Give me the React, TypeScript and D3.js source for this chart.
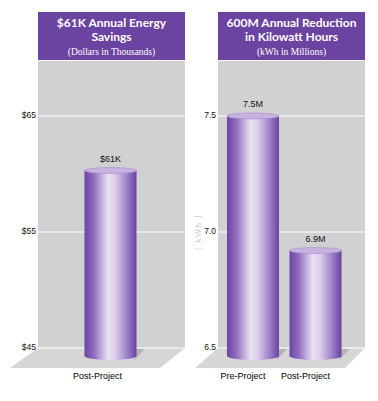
import React from "react";
import * as d3 from "d3";

const leftCategories = ["Post-Project"];
const leftValues = [60.3];
const leftLabels = ["$61K"];
const leftTicks = [45, 55, 65];
const leftTickLabels = ["$45", "$55", "$65"];

const rightCategories = ["Pre-Project", "Post-Project"];
const rightValues = [7.5, 6.92];
const rightLabels = ["7.5M", "6.9M"];
const rightTicks = [6.5, 7.0, 7.5];
const rightTickLabels = ["6.5", "7.0", "7.5"];

const W = 378;
const H = 401;
const PLOT_TOP = 61;
const PLOT_BOTTOM = 348;
const BASE = 356;
const BAR_W = 52;
const RX = BAR_W / 2;

type PanelProps = {
  x0: number;
  x1: number;
  titleLines: string[];
  subtitle: string;
  categories: string[];
  values: number[];
  labels: string[];
  ticks: number[];
  tickLabels: string[];
  domain: [number, number];
  centers: [number, number];
  floorShift: number;
  labelShift: number;
  unitLabel?: string;
  id: string;
};

function Panel(p: PanelProps) {
  const y = d3.scaleLinear().domain(p.domain).range([PLOT_BOTTOM, PLOT_TOP]);
  const x = d3.scalePoint<string>().domain(p.categories).range(p.centers).padding(0);
  const cx = (p.x0 + p.x1) / 2;
  const floor = [
    [p.x0, PLOT_BOTTOM],
    [p.x1, PLOT_BOTTOM],
    [p.x1 + p.floorShift, 368],
    [p.x0 + p.floorShift - 3, 368],
  ];
  return (
    <g>
      <rect x={p.x0} y={12} width={p.x1 - p.x0} height={48} fill="#6b43a0" />
      {p.titleLines.map((t, i) => (
        <text
          key={i}
          x={cx}
          y={24 + i * 14}
          textAnchor="middle"
          dominantBaseline="middle"
          fill="#fff"
          fontFamily="Lato, sans-serif"
          fontWeight={700}
          fontSize={12}
        >
          {t}
        </text>
      ))}
      <text
        x={cx}
        y={52.5}
        textAnchor="middle"
        dominantBaseline="middle"
        fill="#fff"
        fontFamily="'Liberation Serif', serif"
        fontSize={9.5}
      >
        {p.subtitle}
      </text>
      <rect x={p.x0} y={PLOT_TOP} width={p.x1 - p.x0} height={PLOT_BOTTOM - PLOT_TOP} fill="#d1d1d3" />
      <polygon points={floor.map((q) => q.join(",")).join(" ")} fill="#d6d6d6" />
      {p.ticks.map((t, i) => (
        <g key={i}>
          {i > 0 && (
            <line x1={p.x0} x2={p.x1} y1={y(t)} y2={y(t)} stroke="#fff" strokeWidth={1} />
          )}
          <text
            x={p.x0 - 2}
            y={y(t)}
            textAnchor="end"
            dominantBaseline="middle"
            fontFamily="'Liberation Sans Narrow', 'Liberation Sans', sans-serif"
            fontSize={8.5}
            fill="#111"
          >
            {p.tickLabels[i]}
          </text>
        </g>
      ))}
      <line x1={p.x0} x2={p.x1} y1={PLOT_BOTTOM} y2={PLOT_BOTTOM} stroke="#fff" strokeWidth={1} />
      {p.unitLabel && (
        <text
          transform={`translate(${p.x0 - 19},${y(7.0)}) rotate(-90)`}
          textAnchor="middle"
          dominantBaseline="middle"
          fontFamily="Lato, sans-serif"
          fontSize={8}
          letterSpacing={1.5}
          fill="#cfcfcf"
        >
          {p.unitLabel}
        </text>
      )}
      {p.categories.map((c, i) => {
        const bx = x(c) as number;
        const top = y(p.values[i]);
        return (
          <g key={c}>
            <polygon
              points={`${bx + RX - 2},${PLOT_BOTTOM + 1} ${bx + RX + 8},${PLOT_BOTTOM + 1} ${bx + RX - 2},${BASE + 4}`}
              fill="#b4b4b4"
            />
            <rect x={bx - RX} y={top} width={BAR_W} height={BASE - top} fill={`url(#${p.id}-body)`} />
            <ellipse cx={bx} cy={BASE} rx={RX} ry={4} fill={`url(#${p.id}-body)`} />
            <ellipse cx={bx} cy={top} rx={RX} ry={3} fill="#c7b3e0" stroke="#a78ccf" strokeWidth={0.6} />
            <text
              x={bx}
              y={top - 11}
              textAnchor="middle"
              dominantBaseline="middle"
              fontFamily="'Liberation Sans Narrow', 'Liberation Sans', sans-serif"
              fontSize={9}
              fill="#111"
            >
              {p.labels[i]}
            </text>
            <text
              x={bx + p.labelShift}
              y={377}
              textAnchor="middle"
              dominantBaseline="middle"
              fontFamily="'Liberation Sans Narrow', 'Liberation Sans', sans-serif"
              fontSize={9}
              fill="#000"
            >
              {c}
            </text>
          </g>
        );
      })}
    </g>
  );
}

function Grad({ id }: { id: string }) {
  return (
    <linearGradient id={`${id}-body`} x1="0" x2="1" y1="0" y2="0">
      <stop offset="0" stopColor="#6c44a2" />
      <stop offset="0.18" stopColor="#8f6dbf" />
      <stop offset="0.45" stopColor="#e9e1f2" />
      <stop offset="0.58" stopColor="#ddd0ec" />
      <stop offset="0.82" stopColor="#9c80ca" />
      <stop offset="1" stopColor="#6a42a0" />
    </linearGradient>
  );
}

export default function App() {
  return (
    <svg width={W} height={H} style={{ position: "absolute", left: 0, top: 0, background: "#fff" }}>
      <defs>
        <Grad id="l" />
        <Grad id="r" />
      </defs>
      <Panel
        id="l"
        x0={38}
        x1={185}
        titleLines={["$61K Annual Energy", "Savings"]}
        subtitle="(Dollars in Thousands)"
        categories={leftCategories}
        values={leftValues}
        labels={leftLabels}
        ticks={leftTicks}
        tickLabels={leftTickLabels}
        domain={[45, 45 + ((PLOT_BOTTOM - PLOT_TOP) / 116) * 10]}
        centers={[110.5, 110.5]}
        floorShift={-25}
        labelShift={-13}
      />
      <Panel
        id="r"
        x0={218}
        x1={365}
        titleLines={["600M Annual Reduction", "in Kilowatt Hours"]}
        subtitle="(kWh in Millions)"
        categories={rightCategories}
        values={rightValues}
        labels={rightLabels}
        ticks={rightTicks}
        tickLabels={rightTickLabels}
        domain={[6.5, 6.5 + ((PLOT_BOTTOM - PLOT_TOP) / 116) * 0.5]}
        centers={[253, 315.5]}
        floorShift={-20}
        labelShift={-10}
        unitLabel="[ kWh ]"
      />
    </svg>
  );
}
